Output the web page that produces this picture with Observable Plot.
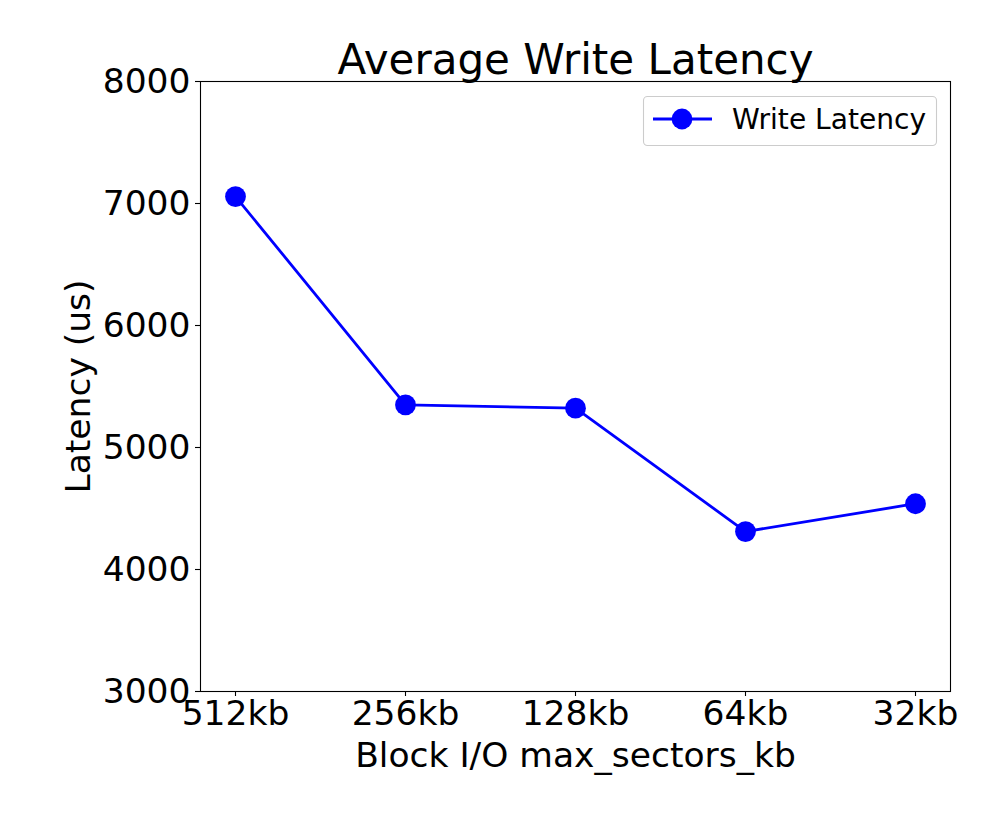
<!DOCTYPE html>
<html>
<head>
<meta charset="utf-8">
<script src="https://cdn.jsdelivr.net/npm/d3@7"></script>
<script src="https://cdn.jsdelivr.net/npm/@observablehq/plot@0.6"></script>
<style>
  html, body { margin: 0; padding: 0; background: white; }
  #chart { width: 1000px; height: 813px; }
</style>
</head>
<body>
<div id="chart"></div>
<script>
const categories = ["512kb", "256kb", "128kb", "64kb", "32kb"];
const latency = [7057, 5350, 5322, 4311, 4539];
const yTicks = [3000, 4000, 5000, 6000, 7000, 8000];
const seriesName = "Write Latency";
const titleText = "Average Write Latency";
const xLabel = "Block I/O max_sectors_kb";
const yLabel = "Latency (us)";

const data = categories.map((c, i) => ({cat: c, val: latency[i]}));
const blue = "#0000ff";
const font = "DejaVu Sans";
const fs = 34.5;

const chart = Plot.plot({
  width: 1000,
  height: 813,
  marginLeft: 200,
  marginRight: 50,
  marginTop: 81,
  marginBottom: 122,
  style: {fontFamily: font, background: "white", color: "black"},
  x: {type: "point", domain: categories, padding: 0.2, label: null},
  y: {domain: [3000, 8000], label: null},
  marks: [
    Plot.axisX({tickSize: 5, tickPadding: 4, fontSize: fs, label: null, stroke: "black", strokeWidth: 1.1}),
    Plot.axisY({ticks: yTicks, tickFormat: d3.format("d"), tickSize: 5, tickPadding: 5, fontSize: fs, label: null, stroke: "black", strokeWidth: 1.1}),
    Plot.line(data, {x: "cat", y: "val", stroke: blue, strokeWidth: 2.8}),
    Plot.dot(data, {x: "cat", y: "val", r: 10.4, fill: blue, stroke: "none"}),
    Plot.frame({stroke: "black", strokeWidth: 1.1}),
    Plot.text([titleText], {frameAnchor: "top", dy: -21, textAnchor: "middle", lineAnchor: "middle", fontSize: 42, fill: "black"}),
    Plot.text([xLabel], {frameAnchor: "bottom", dy: 64, textAnchor: "middle", lineAnchor: "middle", fontSize: fs, fill: "black"}),
    Plot.text([yLabel], {frameAnchor: "left", dx: -122, rotate: -90, textAnchor: "middle", lineAnchor: "middle", fontSize: fs, fill: "black"})
  ]
});

document.getElementById("chart").appendChild(chart);

// Legend (decoration, matplotlib-style box)
const svg = d3.select(chart);
const lg = svg.append("g");
lg.append("rect")
  .attr("x", 643.5).attr("y", 96.5).attr("width", 293).attr("height", 49)
  .attr("rx", 4).attr("fill", "white").attr("fill-opacity", 0.8)
  .attr("stroke", "#cccccc").attr("stroke-width", 1.1);
lg.append("line")
  .attr("x1", 653).attr("x2", 712).attr("y1", 119).attr("y2", 119)
  .attr("stroke", blue).attr("stroke-width", 2.8);
lg.append("circle")
  .attr("cx", 682).attr("cy", 119).attr("r", 10.4).attr("fill", blue);
lg.append("text")
  .attr("x", 732).attr("y", 119).attr("dy", "0.36em")
  .attr("text-anchor", "start")
  .attr("font-family", font).attr("font-size", 28.1).attr("fill", "black")
  .text(seriesName);
</script>
</body>
</html>
